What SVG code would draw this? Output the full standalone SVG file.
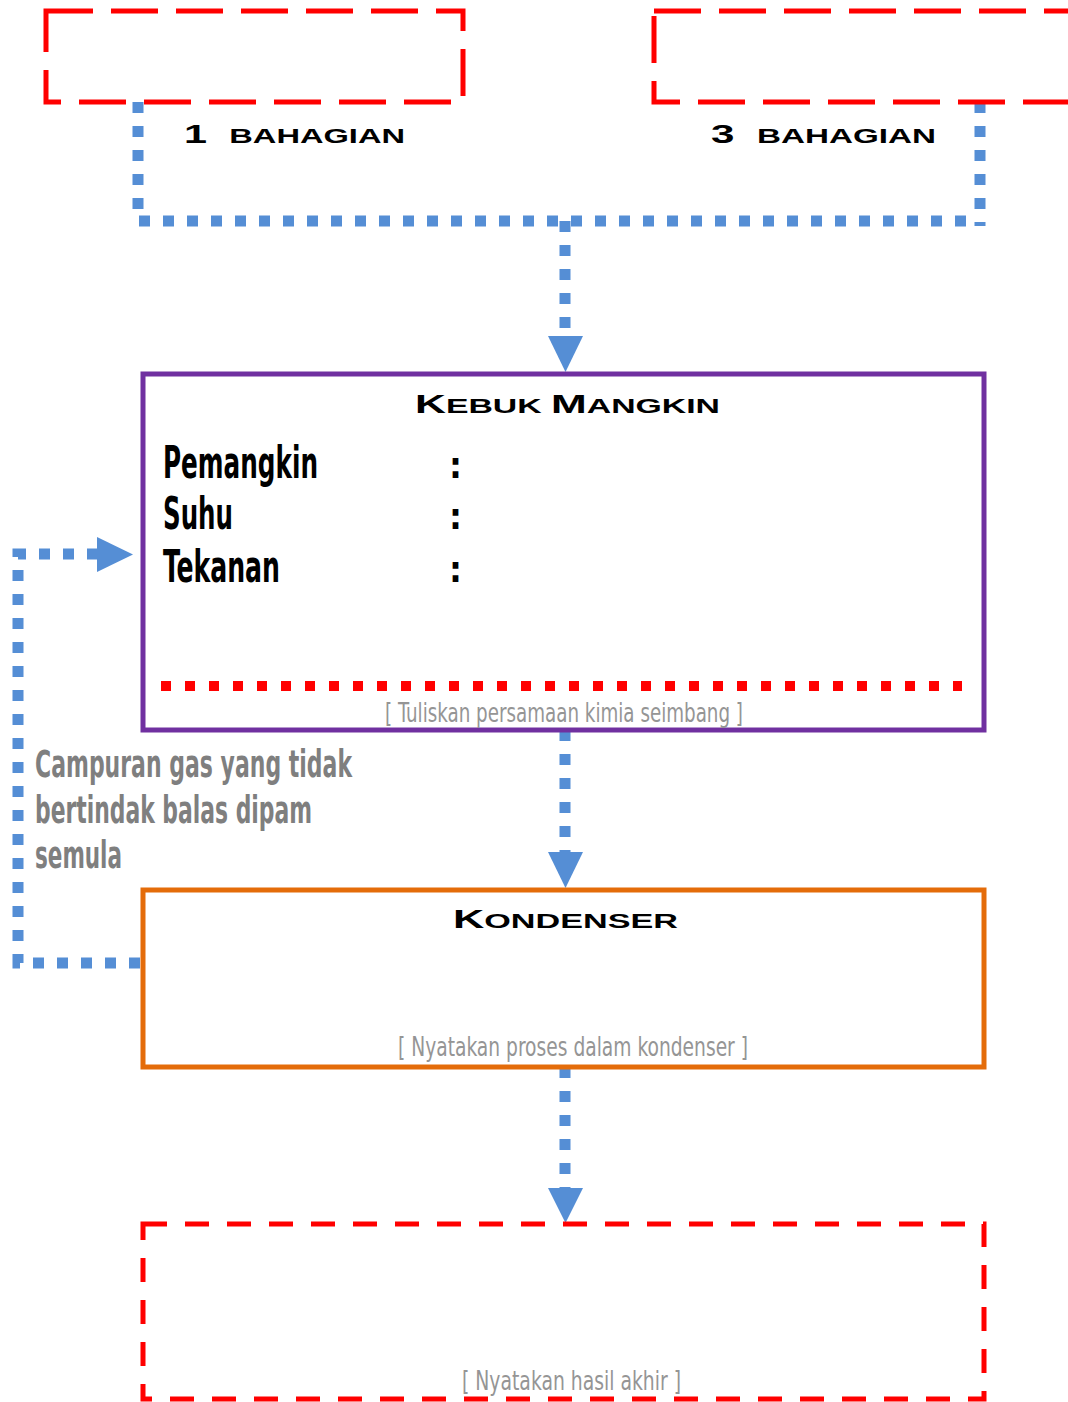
<svg xmlns="http://www.w3.org/2000/svg" width="1068" height="1402" viewBox="0 0 1068 1402">
<style>
.dash{fill:none;stroke:#FF0000;stroke-width:5;stroke-dasharray:47 18}
.dash2{fill:none;stroke:#FF0000;stroke-width:5;stroke-dasharray:24 18}
.dot{fill:none;stroke:#558ED5;stroke-width:11;stroke-dasharray:11 13}
.arrow{fill:#558ED5}
.head{font-family:"Liberation Sans","DejaVu Sans",sans-serif;font-weight:bold;fill:#000}
.narrow{font-family:"Liberation Sans Narrow","DejaVu Sans Condensed","Liberation Sans",sans-serif}
.label{font-weight:bold;font-size:44px;fill:#000}
.colon{font-weight:bold;font-size:36px;fill:#000}
.hint{font-size:27px;fill:#959595}
.note{font-weight:bold;font-size:37px;fill:#7F7F7F}
</style>
<rect width="1068" height="1402" fill="#FFFFFF"/>
<g id="connectors">
  <path class="dot" d="M138,102 V221 H968"/>
  <path class="dot" d="M980,102 V226"/>
  <path class="dot" d="M565,221 V336"/>
  <polygon class="arrow" points="548,336 583,336 565.5,372"/>
  <path class="dot" d="M565,730 V852"/>
  <polygon class="arrow" points="548,852 583,852 565.5,888"/>
  <path class="dot" d="M565,1067 V1188"/>
  <polygon class="arrow" points="548,1188 583,1188 565.5,1223"/>
  <path class="dot" d="M140,963 H18 V554 H97"/>
  <polygon class="arrow" points="97,537 97,572 133,554.5"/>
</g>
<g id="box-1-bahagian">
  <rect class="dash" x="46" y="11" width="417" height="91"/>
  <text class="head" x="184" y="143" textLength="221" lengthAdjust="spacingAndGlyphs"><tspan font-size="26">1</tspan><tspan font-size="20.5" dx="14">BAHAGIAN</tspan></text>
</g>
<g id="box-3-bahagian">
  <rect class="dash" x="654" y="11" width="520" height="91"/>
  <text class="head" x="711" y="143" textLength="225" lengthAdjust="spacingAndGlyphs"><tspan font-size="26">3</tspan><tspan font-size="20.5" dx="14">BAHAGIAN</tspan></text>
</g>
<g id="kebuk-mangkin">
  <rect x="143" y="374" width="841" height="356" fill="none" stroke="#7030A0" stroke-width="5"/>
  <text class="head" x="415" y="413" textLength="305" lengthAdjust="spacingAndGlyphs"><tspan font-size="26">K</tspan><tspan font-size="20.5">EBUK </tspan><tspan font-size="26">M</tspan><tspan font-size="20.5">ANGKIN</tspan></text>
  <text class="narrow label" x="163" y="478" textLength="155" lengthAdjust="spacingAndGlyphs">Pemangkin</text>
  <text class="narrow label" x="163" y="529" textLength="70" lengthAdjust="spacingAndGlyphs">Suhu</text>
  <text class="narrow label" x="163" y="582" textLength="117" lengthAdjust="spacingAndGlyphs">Tekanan</text>
  <text class="narrow colon" x="449" y="478">:</text>
  <text class="narrow colon" x="449" y="529">:</text>
  <text class="narrow colon" x="449" y="582">:</text>
  <path d="M161,686 H962" fill="none" stroke="#FF0000" stroke-width="10" stroke-dasharray="10 14"/>
  <text class="narrow hint" x="385" y="722" textLength="358" lengthAdjust="spacingAndGlyphs">[ Tuliskan persamaan kimia seimbang ]</text>
</g>
<g id="kondenser">
  <rect x="143" y="890" width="841" height="177" fill="none" stroke="#E46C0A" stroke-width="5"/>
  <text class="head" x="453" y="928" textLength="225" lengthAdjust="spacingAndGlyphs"><tspan font-size="26">K</tspan><tspan font-size="20.5">ONDENSER</tspan></text>
  <text class="narrow hint" x="398" y="1056" textLength="350" lengthAdjust="spacingAndGlyphs">[  Nyatakan proses dalam kondenser ]</text>
</g>
<g id="hasil-akhir">
  <rect class="dash2" x="143" y="1224" width="841" height="175"/>
  <text class="narrow hint" x="462" y="1390" textLength="219" lengthAdjust="spacingAndGlyphs">[  Nyatakan hasil akhir ]</text>
</g>
<g id="feedback-label">
  <text class="narrow note" x="35" y="777" textLength="317" lengthAdjust="spacingAndGlyphs">Campuran gas yang tidak</text>
  <text class="narrow note" x="35" y="823" textLength="277" lengthAdjust="spacingAndGlyphs">bertindak balas dipam</text>
  <text class="narrow note" x="35" y="868" textLength="87" lengthAdjust="spacingAndGlyphs">semula</text>
</g>
</svg>
